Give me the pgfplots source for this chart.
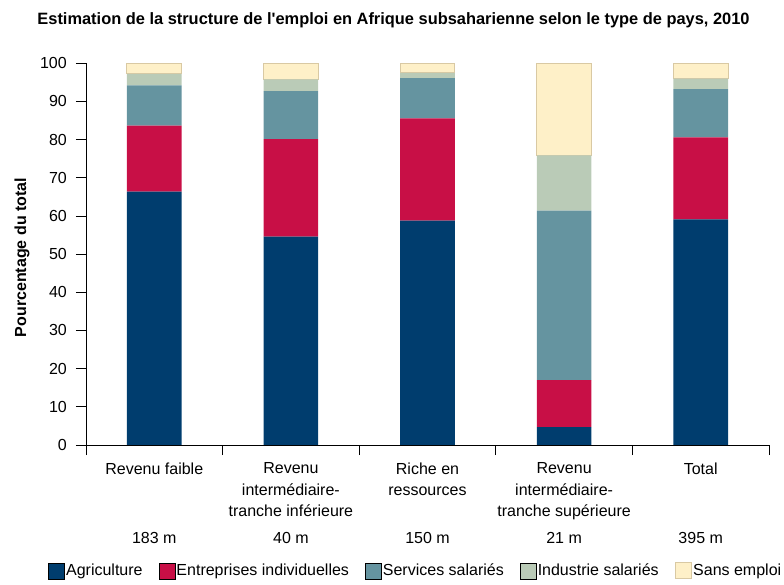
\documentclass[border=0pt]{standalone}
\usepackage{fontspec}
\setmainfont{Liberation Sans}
\usepackage{pgfplots}
\pgfplotsset{compat=1.18}
\definecolor{cAgri}{HTML}{003D6E}
\definecolor{cEntr}{HTML}{C80F46}
\definecolor{cServ}{HTML}{6594A0}
\definecolor{cIndu}{HTML}{BACBB7}
\definecolor{cSans}{HTML}{FEF0C8}
\definecolor{cBord}{HTML}{D9C9A3}
\begin{document}
\fontsize{16bp}{21.7bp}\selectfont
\begin{tikzpicture}[x=1bp,y=1bp]
\path[use as bounding box] (-86,-140) rectangle (698,445);
\begin{axis}[
 at={(0,0)}, anchor=south west,
 scale only axis, width=683bp, height=381.7bp,
 ybar stacked, bar width=0.4,
 xmin=-0.5, xmax=4.5, ymin=0, ymax=100,
 axis x line*=bottom, axis y line*=left,
 xtick={-0.5,0.5,1.5,2.5,3.5,4.5}, x tick label as interval,
 xticklabels={Revenu faible,Revenu\\intermédiaire-\\tranche inférieure,Riche en\\ressources,Revenu\\intermédiaire-\\tranche supérieure,Total},
 xticklabel style={align=center, anchor=north, font=\fontsize{16bp}{21.7bp}\selectfont, yshift=-2bp},
 ytick={0,10,...,100},
 yticklabel style={font=\fontsize{16bp}{19bp}\selectfont, inner xsep=9bp},
 /pgf/number format/assume math mode=true,
 tick align=outside, major tick length=10bp,
 tick style={black, line width=0.8bp},
 axis line style={black, line width=0.8bp},
 legend columns=5,
 legend style={draw=none, fill=none, at={(axis description cs:-0.0556,-0.330)}, anchor=west,
   font=\fontsize{16bp}{19bp}\selectfont, inner sep=0pt,
   /tikz/every even column/.append style={column sep=14.5bp},
   nodes={inner xsep=1.5bp, inner ysep=0pt}},
 legend image code/.code={\draw[#1] (0bp,-8bp) rectangle (16bp,8bp);},
 clip=false,
]
\addplot[fill=cAgri, draw=none] coordinates {(0,66.4) (1,54.6) (2,58.8) (3,4.7) (4,59.1)};
\addplot[fill=cEntr, draw=none] coordinates {(0,17.3) (1,25.5) (2,26.8) (3,12.3) (4,21.5)};
\addplot[fill=cServ, draw=none] coordinates {(0,10.5) (1,12.6) (2,10.5) (3,44.4) (4,12.6)};
\addplot[fill=cIndu, draw=none] coordinates {(0,3.0) (1,3.1) (2,1.4) (3,14.5) (4,2.8)};
\addplot[fill=cSans, draw=cBord, line width=1bp] coordinates {(0,2.8) (1,4.2) (2,2.5) (3,24.1) (4,4.0)};
\legend{Agriculture,Entreprises individuelles,Services salariés,Industrie salariés,Sans emploi}
\node[anchor=base] at (axis cs:0,0) [yshift=-98.3bp] {183 m};
\node[anchor=base] at (axis cs:1,0) [yshift=-98.3bp] {40 m};
\node[anchor=base] at (axis cs:2,0) [yshift=-98.3bp] {150 m};
\node[anchor=base] at (axis cs:3,0) [yshift=-98.3bp] {21 m};
\node[anchor=base] at (axis cs:4,0) [yshift=-98.3bp] {395 m};
\end{axis}
\node[anchor=base, font=\bfseries\fontsize{16.4bp}{19bp}\selectfont] at (307.5,420) {Estimation de la structure de l\textquotesingle emploi en Afrique subsaharienne selon le type de pays, 2010};
\node[rotate=90, font=\bfseries\fontsize{16bp}{19bp}\selectfont] at (-64,187.5) {Pourcentage du total};
\end{tikzpicture}
\end{document}
